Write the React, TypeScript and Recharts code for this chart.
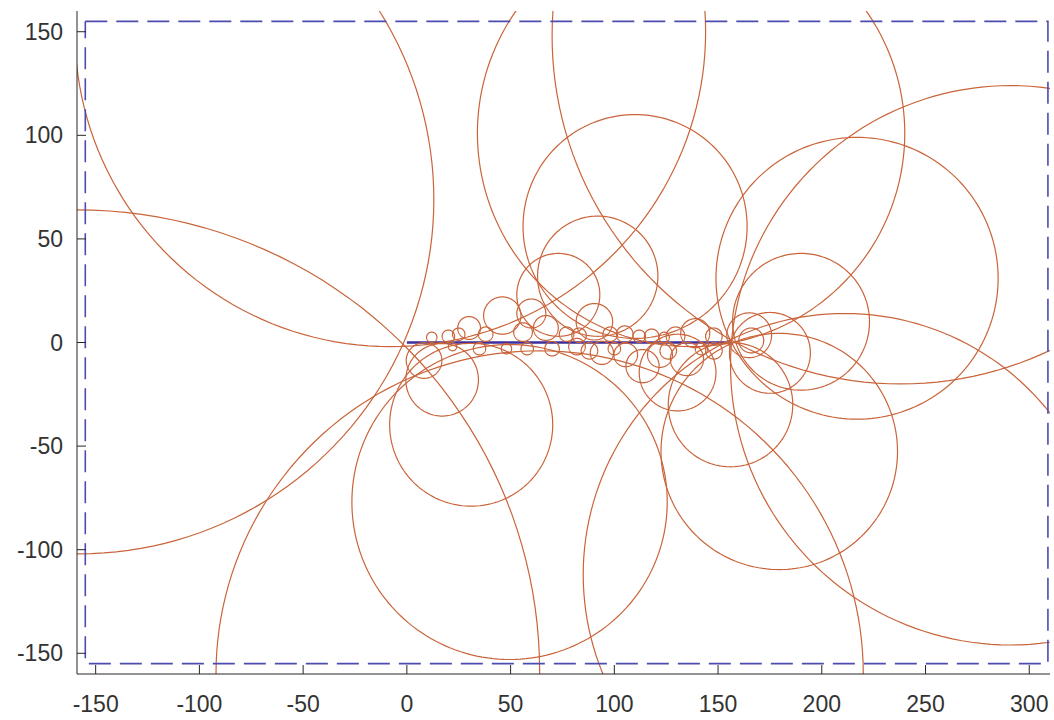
import { LineChart, Line, XAxis, YAxis } from 'recharts';

type Circle = [number, number, number]; // centre x, centre y, radius

// circles passing through the left end of the segment
const originCircles: Circle[] = [
  [-158, 69, 171],
  [-159, -159, 223],
  [-8, 150, 152],
];

// circles gathering at the right end of the segment
const focusCircles: Circle[] = [
  [137, 101, 103],
  [238, 148, 168],
  [211, -112, 126],
  [291, -11, 135],
  [217, 31, 68],
  [190, 10, 33],
  [175, -5, 19.5],
  [165, 3.5, 10.8],
  [166, 1, 6],
  [156, -30, 30],
  [179.5, -52.6, 57],
];

// chain sitting on top of the segment
const upperChain: Circle[] = [
  [110, 56, 54],
  [92, 32, 29],
  [73, 23, 20],
  [46, 13, 9],
  [30, 7, 5.5],
  [20, 3, 3],
  [12, 2.5, 2.5],
  [25, 4, 3],
  [38, 4, 3.5],
  [56, 5, 4.5],
  [60, 14, 7],
  [67, 7, 6],
  [77, 4, 3.5],
  [83, 3.5, 3.5],
  [90.4, 10, 8.8],
  [98, 4, 3.5],
  [105, 4, 4],
  [112, 3, 3],
  [118, 3, 3.5],
  [124, 2.5, 2.5],
  [129.5, 3, 4.5],
  [139, 4.5, 7],
  [148, 3, 4],
];

// chain hanging below the segment
const lowerChain: Circle[] = [
  [64, -160, 156],
  [49.5, -77, 76],
  [31, -39.7, 39.3],
  [17, -18, 17.5],
  [8.3, -8.7, 8.6],
  [22, -2, 2],
  [35, -3, 3],
  [48, -3, 2.5],
  [58, -3, 3],
  [70, -3, 3.5],
  [82, -2, 4],
  [88, -4, 4],
  [94, -5, 5.6],
  [100, -3, 3],
  [105.5, -6, 5.7],
  [113.6, -11.4, 8],
  [122, -6, 6],
  [126, -4, 4],
  [130.5, -14.5, 18.5],
  [135, -8, 8],
  [142, -3, 3],
  [148, -4, 4],
];

const segmentX = [0, 156];
const frameX = [-155, 309];
const frameY = [-155, 155];

const xTicks = [-150, -100, -50, 0, 50, 100, 150, 200, 250, 300];
const yTicks = [-150, -100, -50, 0, 50, 100, 150];

const ORANGE = '#c9643a';
const AXIS = '#262626';
const FONT = '"Liberation Sans", Arial, sans-serif';

const STEPS = 180;
function outline([cx, cy, r]: Circle) {
  const pts = [];
  for (let i = 0; i <= STEPS; i++) {
    const t = (i / STEPS) * 2 * Math.PI;
    pts.push({ x: cx + r * Math.cos(t), y: cy + r * Math.sin(t) });
  }
  return pts;
}

const allCircles = [...originCircles, ...focusCircles, ...upperChain, ...lowerChain];

const segmentData = segmentX.map((x) => ({ x, y: 0 }));
const frameData = [
  { x: frameX[0], y: frameY[1] },
  { x: frameX[1], y: frameY[1] },
  { x: frameX[1], y: frameY[0] },
  { x: frameX[0], y: frameY[0] },
  { x: frameX[0], y: frameY[1] },
];

// ticks point inward, labels sit outside
function XTick({ x, y, payload }: any) {
  return (
    <g>
      <line x1={x} y1={y} x2={x} y2={y - 9} stroke={AXIS} />
      <text x={x} y={y + 30} textAnchor="middle" dominantBaseline="central"
        fontFamily={FONT} fontSize={23} fill="#333">
        {payload.value}
      </text>
    </g>
  );
}

function YTick({ x, y, payload }: any) {
  return (
    <g>
      <line x1={x} y1={y} x2={x + 9} y2={y} stroke={AXIS} />
      <text x={x - 14} y={y} textAnchor="end" dominantBaseline="central"
        fontFamily={FONT} fontSize={23} fill="#333">
        {payload.value}
      </text>
    </g>
  );
}

export default function App() {
  return (
    <div style={{ position: 'absolute', left: 0, top: 0, background: '#fff' }}>
      <LineChart width={1054} height={720} margin={{ top: 11, right: 4, bottom: 0, left: 0 }}>
        <XAxis
          type="number"
          dataKey="x"
          domain={[-159, 310]}
          ticks={xTicks}
          allowDataOverflow
          height={46}
          tickSize={0}
          tickMargin={0}
          tick={<XTick />}
          axisLine={{ stroke: AXIS }}
          interval={0}
        />
        <YAxis
          type="number"
          dataKey="y"
          domain={[-160, 160]}
          ticks={yTicks}
          allowDataOverflow
          width={77}
          tickSize={0}
          tickMargin={0}
          tick={<YTick />}
          axisLine={{ stroke: AXIS }}
          interval={0}
        />
        <Line
          data={segmentData}
          dataKey="y"
          stroke="#3c2d9b"
          strokeWidth={2.5}
          dot={false}
          activeDot={false}
          isAnimationActive={false}
        />
        {allCircles.map((c, i) => (
          <Line
            key={i}
            data={outline(c)}
            dataKey="y"
            type="linear"
            stroke={ORANGE}
            strokeWidth={1.2}
            dot={false}
            activeDot={false}
            isAnimationActive={false}
          />
        ))}
        <Line
          data={frameData}
          dataKey="y"
          stroke="#4b4bb0"
          strokeWidth={1.6}
          strokeDasharray="22 9"
          dot={false}
          activeDot={false}
          isAnimationActive={false}
        />
      </LineChart>
    </div>
  );
}
